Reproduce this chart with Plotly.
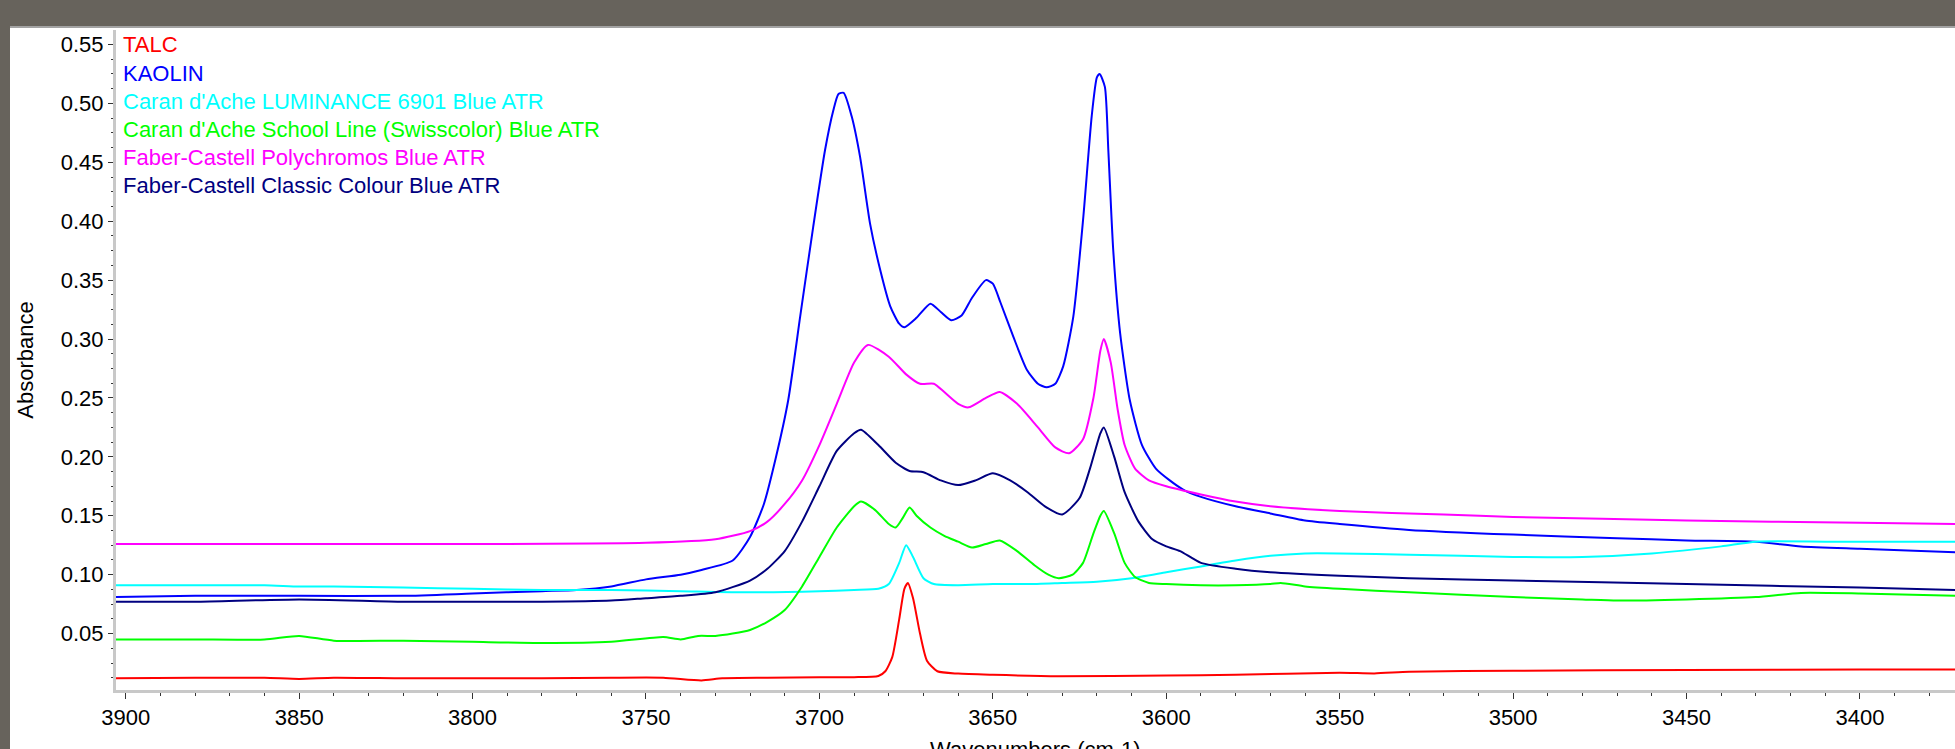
import plotly.graph_objects as go

# ---------------- data ----------------
names = ["TALC", "KAOLIN", "Caran d'Ache LUMINANCE 6901 Blue ATR",
         "Caran d'Ache School Line (Swisscolor) Blue ATR",
         "Faber-Castell Polychromos Blue ATR", "Faber-Castell Classic Colour Blue ATR"]
colors = ["#ff0000", "#0000ff", "#00ffff", "#00ff00", "#ff00ff", "#000080"]

talc_wn = [3903, 3880, 3860, 3850, 3840, 3820, 3800, 3780, 3760, 3745, 3734, 3728, 3715, 3700, 3690,
           3683, 3681, 3679, 3677, 3675.5, 3674.5, 3673, 3671, 3669, 3666, 3660, 3650, 3631, 3600,
           3580, 3550, 3540, 3530, 3500, 3450, 3400, 3372]
talc_abs = [0.012, 0.0125, 0.0125, 0.0115, 0.0125, 0.012, 0.012, 0.012, 0.0125, 0.0125, 0.0102, 0.012, 0.0125,
            0.013, 0.013, 0.014, 0.018, 0.03, 0.062, 0.088, 0.093, 0.08, 0.05, 0.027, 0.018, 0.016, 0.015,
            0.0138, 0.0145, 0.015, 0.0168, 0.0162, 0.0175, 0.0185, 0.019, 0.0195, 0.0195]

kaolin_wn = [3903, 3880, 3850, 3820, 3800, 3780, 3770, 3760, 3750, 3740, 3734, 3725, 3720, 3716, 3712.5,
             3709, 3705.5, 3701.8, 3698.4, 3696, 3694.5, 3693, 3690.7, 3688.3, 3685.4, 3682.5, 3679.6,
             3677, 3675.5, 3672, 3668, 3665, 3662, 3659, 3656, 3652, 3650, 3647.8, 3644.1, 3640.2, 3637,
             3634.5, 3632, 3629.7, 3626.8, 3623.9, 3621.5, 3620, 3619.2, 3617.7, 3616.7, 3615.3, 3613.3,
             3610.5, 3607, 3603, 3599, 3595, 3590, 3580, 3570, 3560, 3550, 3530, 3500, 3470, 3450, 3430,
             3417, 3400, 3372]
kaolin_abs = [0.081, 0.082, 0.082, 0.082, 0.084, 0.086, 0.087, 0.09, 0.096, 0.1, 0.104, 0.112, 0.132, 0.16,
              0.2, 0.248, 0.32, 0.395, 0.46, 0.494, 0.508, 0.509, 0.489, 0.455, 0.398, 0.359, 0.328,
              0.313, 0.31, 0.318, 0.33, 0.323, 0.316, 0.32, 0.335, 0.35, 0.347, 0.331, 0.302, 0.274, 0.262,
              0.259, 0.262, 0.277, 0.319, 0.404, 0.489, 0.522, 0.525, 0.514, 0.46, 0.376, 0.305,
              0.248, 0.21, 0.19, 0.18, 0.172, 0.166, 0.158, 0.152, 0.146, 0.143, 0.138, 0.134, 0.131, 0.129,
              0.128, 0.124, 0.122, 0.119]

lum_wn = [3903, 3880, 3860, 3850, 3840, 3820, 3800, 3780, 3760, 3740, 3720, 3700, 3690, 3683, 3680, 3677,
          3675, 3673, 3670, 3667, 3660, 3650, 3640, 3630, 3620, 3610, 3600, 3590, 3580, 3570, 3560, 3550,
          3530, 3500, 3480, 3460, 3440, 3430, 3410, 3400, 3372]
lum_abs = [0.091, 0.091, 0.091, 0.09, 0.09, 0.089, 0.088, 0.087, 0.087, 0.086, 0.085, 0.086, 0.087, 0.088,
           0.092, 0.11, 0.125, 0.115, 0.097, 0.092, 0.091, 0.092, 0.092, 0.093, 0.094, 0.097, 0.102, 0.107,
           0.112, 0.116, 0.118, 0.118, 0.117, 0.115, 0.115, 0.118, 0.124, 0.128, 0.128, 0.128, 0.128]

school_wn = [3903, 3880, 3860, 3850, 3840, 3820, 3800, 3780, 3760, 3745, 3740, 3735, 3730, 3725, 3720,
             3715, 3710, 3705, 3700, 3695, 3690, 3688, 3684, 3680, 3678, 3676, 3674, 3672, 3668, 3664,
             3660, 3656, 3652, 3648, 3643, 3638, 3634, 3631, 3627, 3624, 3621, 3619, 3618, 3615, 3612,
             3609, 3605, 3600, 3590, 3580, 3570, 3567, 3560, 3550, 3530, 3500, 3480, 3470, 3450, 3430,
             3417, 3400, 3372]
school_abs = [0.045, 0.045, 0.045, 0.048, 0.044, 0.044, 0.043, 0.042, 0.043, 0.047, 0.045, 0.048, 0.048,
              0.05, 0.053, 0.06, 0.07, 0.09, 0.115, 0.14, 0.158, 0.162, 0.155, 0.143, 0.14, 0.148, 0.157,
              0.15, 0.14, 0.133, 0.128, 0.123, 0.126, 0.129, 0.12, 0.108, 0.1, 0.097, 0.1, 0.11, 0.135,
              0.15, 0.154, 0.135, 0.11, 0.098, 0.093, 0.092, 0.091, 0.091, 0.092, 0.093, 0.09, 0.088,
              0.085, 0.081, 0.079, 0.078, 0.079, 0.081, 0.0845, 0.084, 0.082]

poly_wn = [3903, 3850, 3800, 3750, 3730, 3720, 3715, 3710, 3705, 3700, 3695, 3690, 3686, 3680, 3675,
           3671, 3667, 3664, 3660, 3657, 3652, 3648, 3643, 3637, 3632, 3628, 3624, 3621, 3619, 3618,
           3616, 3614, 3612, 3609, 3605, 3600, 3590, 3580, 3570, 3550, 3520, 3500, 3450, 3400, 3372]
poly_abs = [0.126, 0.126, 0.126, 0.127, 0.13, 0.137, 0.145, 0.16, 0.18, 0.21, 0.245, 0.28, 0.295, 0.285,
            0.27, 0.262, 0.262, 0.255, 0.245, 0.242, 0.25, 0.255, 0.245, 0.225, 0.208, 0.203, 0.215,
            0.25, 0.29, 0.3, 0.28, 0.24, 0.21, 0.19, 0.18, 0.175, 0.168, 0.162, 0.158, 0.154, 0.151,
            0.149, 0.146, 0.144, 0.143]

classic_wn = [3903, 3880, 3850, 3820, 3800, 3780, 3760, 3750, 3740, 3730, 3720, 3715, 3710, 3705, 3700,
              3695, 3690, 3688, 3683, 3678, 3674, 3670, 3665, 3660, 3655, 3650, 3645, 3640, 3635, 3630,
              3625, 3622, 3619, 3618, 3615, 3612, 3608, 3604, 3600, 3596, 3590, 3580, 3570, 3550, 3530,
              3500, 3450, 3400, 3372]
classic_abs = [0.077, 0.077, 0.079, 0.077, 0.077, 0.077, 0.078, 0.08, 0.082, 0.085, 0.095, 0.105, 0.12,
               0.145, 0.175, 0.205, 0.22, 0.223, 0.21, 0.195, 0.188, 0.187, 0.18, 0.176, 0.18, 0.186, 0.18,
               0.17, 0.158, 0.151, 0.165, 0.19, 0.22, 0.225, 0.2, 0.17, 0.145, 0.13, 0.124, 0.12, 0.11,
               0.105, 0.102, 0.099, 0.097, 0.095, 0.092, 0.089, 0.087]

series_wn = [talc_wn, kaolin_wn, lum_wn, school_wn, poly_wn, classic_wn]
series_abs = [talc_abs, kaolin_abs, lum_abs, school_abs, poly_abs, classic_abs]

x_ticks = [3900, 3850, 3800, 3750, 3700, 3650, 3600, 3550, 3500, 3450, 3400]
y_ticks = [0.05, 0.10, 0.15, 0.20, 0.25, 0.30, 0.35, 0.40, 0.45, 0.50, 0.55]
x_title = "Wavenumbers (cm-1)"
y_title = "Absorbance"

# ---------------- figure ----------------
W, H = 1955, 749
ML, MR, MT, MB = 116, 0, 30, 59
PW, PH = W - ML - MR, H - MT - MB

def px_x(p):
    return (p - ML) / PW

def px_y(p):
    return (H - MB - p) / PH

fig = go.Figure()
for wn, ab, nm, col in zip(series_wn, series_abs, names, colors):
    fig.add_trace(go.Scatter(x=wn, y=ab, name=nm, mode="lines",
                             line=dict(color=col, width=2, shape="spline", smoothing=0.6)))

FONT = "Liberation Sans, Arial, sans-serif"
fig.update_layout(
    width=W, height=H, margin=dict(l=ML, r=MR, t=MT, b=MB, autoexpand=False),
    paper_bgcolor="white", plot_bgcolor="white", showlegend=False,
    font=dict(family=FONT, size=22, color="black"),
    xaxis=dict(range=[3902.8, 3372.6], tickvals=x_ticks, ticks="outside", ticklen=6, tickwidth=1,
               tickcolor="#333", showline=True, linecolor="#c8c8c8", linewidth=3, showgrid=False,
               zeroline=False, automargin=False,
               minor=dict(dtick=10, ticks="outside", ticklen=3, tickcolor="#333", showgrid=False)),
    yaxis=dict(range=[0.0021, 0.5623], tickvals=y_ticks, tickformat=".2f", ticks="outside", ticklen=5,
               tickwidth=1, tickcolor="#333", showline=True, linecolor="#c8c8c8", linewidth=3,
               showgrid=False, zeroline=False, automargin=False,
               minor=dict(tick0=0, dtick=0.0125, ticks="outside", ticklen=2, tickcolor="#333", showgrid=False),
               title=dict(text=y_title, standoff=22, font=dict(size=22))),
)

# x-axis title (cut by the window's bottom edge, as in the reference)
fig.add_annotation(xref="paper", yref="paper", x=0.5, y=px_y(735), xanchor="center", yanchor="top",
                   text=x_title, showarrow=False, font=dict(size=22, family=FONT, color="black"))

# legend as coloured text
for i, (nm, col) in enumerate(zip(names, colors)):
    ypx = 45 + i * 28.2
    fig.add_annotation(xref="paper", yref="paper", x=px_x(121), y=px_y(ypx),
                       xanchor="left", yanchor="middle", text=nm, showarrow=False,
                       font=dict(color=col, size=22, family=FONT))

# window frame (dark grey bands at top and left)
GRAY = "#67635c"
fig.add_shape(type="rect", xref="paper", yref="paper", x0=px_x(0), x1=px_x(W), y0=px_y(0), y1=px_y(26),
              fillcolor=GRAY, line_width=0, layer="above")
fig.add_shape(type="rect", xref="paper", yref="paper", x0=px_x(0), x1=px_x(W), y0=px_y(26), y1=px_y(28),
              fillcolor="#a3a3a3", line_width=0, layer="above")
fig.add_shape(type="rect", xref="paper", yref="paper", x0=px_x(0), x1=px_x(10), y0=px_y(0), y1=px_y(H),
              fillcolor=GRAY, line_width=0, layer="above")

fig.write_html("out.html", config={"displayModeBar": False},
               post_script="document.body.style.margin='0';document.body.style.overflow='hidden';")
